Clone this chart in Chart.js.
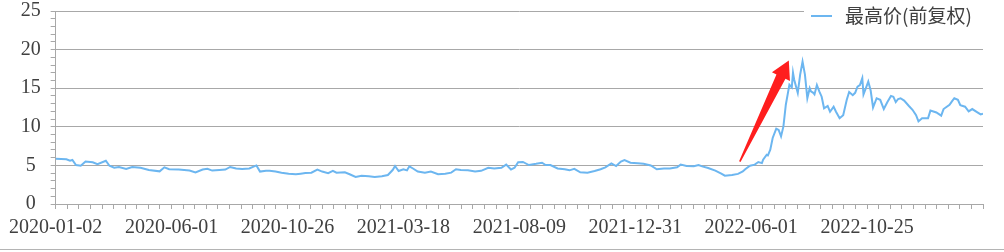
<!DOCTYPE html>
<html lang="zh-CN">
<head>
    <meta charset="UTF-8">
    <title>最高价(前复权)</title>
    <style>
        html, body { margin: 0; padding: 0; background: #fff; }
        #wrap { width: 1004px; height: 252px; }
    </style>
</head>
<body>
    <div id="wrap">
        <canvas id="myChart" width="1004" height="252"></canvas>
    </div>

    <script src="https://cdn.jsdelivr.net/npm/chart.js"></script>
    <script>
        // trading-day index (0 = 2020-01-02) and the daily high
        var tradingDay = [
            0, 9, 12, 14, 17, 21, 25, 31, 35, 42, 45, 49, 53, 59, 64, 71, 78, 87, 91, 95,
            103, 112, 117, 123, 127, 131, 137, 142, 146, 151, 156, 162, 168, 171, 176, 179, 184, 189, 195, 201,
            205, 209, 214, 219, 223, 228, 232, 235, 242, 246, 251, 256, 262, 267, 273, 278, 282, 284, 287, 291,
            294, 296, 299, 303, 309, 314, 320, 326, 331, 335, 339, 345, 351, 356, 362, 367, 373, 377, 381, 384,
            387, 391, 396, 402, 407, 410, 414, 420, 426, 430, 434, 439, 445, 451, 456, 460, 465, 469, 473, 476,
            481, 487, 492, 498, 503, 509, 514, 520, 523, 528, 534, 538, 541, 546, 552, 557, 560, 566, 571, 575,
            577, 581, 585, 588, 591, 592, 595, 596, 598, 600, 603, 605, 607, 609, 611, 613, 614, 616, 617, 618,
            621, 623, 625, 627, 629, 631, 632, 634, 635, 637, 639, 641, 643, 646, 648, 651, 653, 656, 659, 662,
            664, 667, 669, 671, 673, 675, 676, 678, 680, 682, 684, 687, 690, 693, 696, 699, 701, 703, 705, 707,
            710, 714, 717, 720, 722, 725, 730, 732, 737, 741, 743, 748, 750, 752, 755, 757, 761, 764, 767, 771,
            774, 776
        ];
        var highPrice = [
            5.85, 5.8, 5.6, 5.7, 5.05, 4.95, 5.5, 5.4, 5.15, 5.6, 4.95, 4.7, 4.8, 4.55, 4.8, 4.7, 4.4, 4.23, 4.75, 4.5,
            4.46, 4.33, 4.1, 4.46, 4.55, 4.33, 4.4, 4.46, 4.8, 4.6, 4.55, 4.6, 5.0, 4.2, 4.3, 4.3, 4.2, 4.06, 3.93, 3.85,
            3.93, 4.0, 4.06, 4.45, 4.2, 4.0, 4.3, 4.06, 4.1, 3.85, 3.5, 3.67, 3.58, 3.5, 3.6, 3.75, 4.4, 4.92, 4.27, 4.5,
            4.36, 4.88, 4.6, 4.2, 4.06, 4.2, 3.85, 3.93, 4.06, 4.5, 4.4, 4.36, 4.2, 4.3, 4.7, 4.6, 4.7, 5.1, 4.46, 4.7,
            5.4, 5.45, 5.05, 5.2, 5.35, 5.05, 5.05, 4.6, 4.5, 4.36, 4.55, 4.1, 4.06, 4.27, 4.5, 4.75, 5.27, 4.92, 5.5, 5.7,
            5.35, 5.27, 5.2, 5.0, 4.5, 4.6, 4.6, 4.75, 5.1, 4.92, 4.88, 5.05, 4.87, 4.67, 4.32, 3.94, 3.67, 3.75, 3.9, 4.22,
            4.5, 4.96, 5.1, 5.44, 5.3, 5.74, 6.38, 6.3, 7.03, 8.55, 9.75, 9.6, 8.76, 10.05, 12.86, 14.58, 15.45, 15.1, 17.0, 16.1,
            14.4, 16.75, 18.45, 16.75, 13.7, 15.0, 14.6, 14.4, 14.2, 15.4, 14.6, 13.9, 12.4, 12.7, 11.95, 12.6, 11.95, 11.1, 11.5, 13.5,
            14.5, 14.1, 14.4, 15.2, 15.4, 16.3, 14.2, 15.0, 15.85, 14.7, 12.5, 13.7, 13.5, 12.3, 13.2, 14.0, 13.9, 13.2, 13.6, 13.7,
            13.4, 12.7, 12.2, 11.5, 10.7, 11.1, 11.1, 12.1, 11.85, 11.45, 12.3, 12.85, 13.3, 13.7, 13.5, 12.8, 12.6, 12.0, 12.3, 11.9,
            11.6, 11.7
        ];
        // x-axis labels, one every 97 trading days
        var dateLabels = ['2020-01-02', '2020-06-01', '2020-10-26', '2021-03-18', '2021-08-09', '2021-12-31', '2022-06-01', '2022-10-25'];
        var seriesName = '最高价(前复权)';
        // red arrow annotation, tail and tip in (trading day, price)
        var arrowTail = [572.5, 5.5];
        var arrowTip = [613.5, 18.6];

        var lineColor = '#6cb6f0';
        var gridColor = '#a8a8a8';
        var textColor = '#404040';
        var serif = "'Liberation Serif', 'DejaVu Serif', serif";

        var points = tradingDay.map(function (d, i) {
            return { x: d, y: highPrice[i] };
        });

        var arrowPlugin = {
            id: 'arrow',
            afterDatasetsDraw: function (chart) {
                var xs = chart.scales.x, ys = chart.scales.y, ctx = chart.ctx;
                var tx = xs.getPixelForValue(arrowTail[0]), ty = ys.getPixelForValue(arrowTail[1]);
                var hx = xs.getPixelForValue(arrowTip[0]), hy = ys.getPixelForValue(arrowTip[1]);
                var len = Math.hypot(hx - tx, hy - ty);
                var ux = (hx - tx) / len, uy = (hy - ty) / len;
                var nx = -uy, ny = ux;
                var headLen = 18, headW = 10, shaftW = 5, tailW = 0.8;
                var bx = hx - ux * headLen, by = hy - uy * headLen;
                ctx.save();
                ctx.fillStyle = '#ff1e1e';
                ctx.beginPath();
                ctx.moveTo(tx + nx * tailW, ty + ny * tailW);
                ctx.lineTo(bx + nx * shaftW, by + ny * shaftW);
                ctx.lineTo(bx + nx * headW, by + ny * headW);
                ctx.lineTo(hx, hy);
                ctx.lineTo(bx - nx * headW, by - ny * headW);
                ctx.lineTo(bx - nx * shaftW, by - ny * shaftW);
                ctx.lineTo(tx - nx * tailW, ty - ny * tailW);
                ctx.closePath();
                ctx.fill();
                ctx.restore();
            }
        };

        var legendPlugin = {
            id: 'boxLegend',
            afterDraw: function (chart) {
                var ctx = chart.ctx, area = chart.chartArea;
                ctx.save();
                // legend box sits over the top gridline
                ctx.fillStyle = '#fff';
                ctx.fillRect(area.right - 179, 0, 200, 29);
                ctx.strokeStyle = lineColor;
                ctx.lineWidth = 2;
                ctx.beginPath();
                ctx.moveTo(area.right - 172, 16);
                ctx.lineTo(area.right - 151, 16);
                ctx.stroke();
                ctx.fillStyle = textColor;
                ctx.font = "19px 'Noto Sans CJK SC', sans-serif";
                ctx.textBaseline = 'middle';
                ctx.fillText(seriesName, area.right - 138, 16);
                // bottom border of the picture
                ctx.strokeStyle = '#b4b4b4';
                ctx.lineWidth = 1;
                ctx.beginPath();
                ctx.moveTo(0, chart.height - 2.5);
                ctx.lineTo(chart.width, chart.height - 2.5);
                ctx.stroke();
                ctx.restore();
            }
        };

        var ctx = document.getElementById('myChart').getContext('2d');
        new Chart(ctx, {
            type: 'line',
            data: {
                datasets: [{
                    label: seriesName,
                    data: points,
                    borderColor: lineColor,
                    borderWidth: 2,
                    pointRadius: 0,
                    tension: 0,
                    fill: false
                }]
            },
            options: {
                responsive: false,
                animation: false,
                layout: { padding: { top: 11, right: 21, left: 0, bottom: 0 } },
                plugins: {
                    legend: { display: false },
                    tooltip: { enabled: false }
                },
                scales: {
                    x: {
                        type: 'linear',
                        min: 0,
                        max: 776,
                        afterBuildTicks: function (scale) {
                            var t = [];
                            for (var i = 0; i <= 80; i++) t.push({ value: i * 9.7 });
                            scale.ticks = t;
                        },
                        afterFit: function (scale) { scale.height = 48; },
                        ticks: {
                            autoSkip: false,
                            maxRotation: 0,
                            minRotation: 0,
                            padding: 9,
                            color: textColor,
                            font: { family: serif, size: 20, lineHeight: 1 },
                            callback: function (v, i) {
                                return i % 10 === 0 ? (dateLabels[i / 10] || '') : '';
                            }
                        },
                        grid: { drawOnChartArea: false, tickLength: 5, color: gridColor },
                        border: { color: gridColor }
                    },
                    y: {
                        min: 0,
                        max: 25,
                        afterFit: function (scale) { scale.width = 51; },
                        ticks: {
                            stepSize: 1,
                            autoSkip: false,
                            padding: 10,
                            crossAlign: 'center',
                            color: textColor,
                            // tiny line height keeps the top label from pushing the plot down
                            font: { family: serif, size: 20, lineHeight: 0.1 },
                            callback: function (v) { return v % 5 === 0 ? v : ''; }
                        },
                        grid: {
                            color: function (c) { return c.tick && c.tick.value % 5 === 0 ? gridColor : 'rgba(0,0,0,0)'; },
                            tickColor: gridColor,
                            tickLength: 5
                        },
                        border: { color: gridColor }
                    }
                }
            },
            plugins: [arrowPlugin, legendPlugin]
        });
    </script>
</body>
</html>
